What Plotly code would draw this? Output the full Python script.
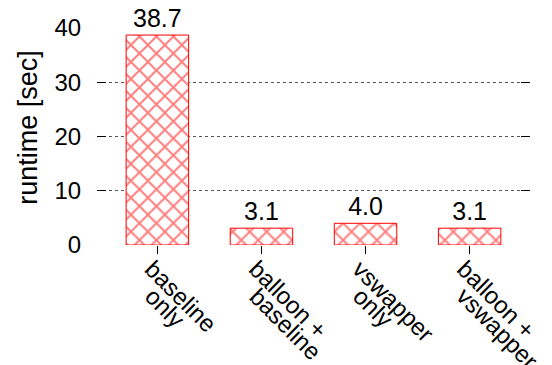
import math
import plotly.graph_objects as go

categories = [["baseline", "only"], ["balloon +", "baseline"], ["vswapper", "only"], ["balloon +", "vswapper"]]
runtime_sec = [38.7, 3.1, 4.0, 3.1]
bar_labels = ["38.7", "3.1", "4.0", "3.1"]
y_ticks = [0, 10, 20, 30, 40]

FONT = "Liberation Sans, Arial, sans-serif"
FS = 24
CAT_FS = 24
positions = list(range(len(categories)))

# Helvetica/Arial advance widths (em) for the characters of the category labels
ADVANCE = {"b": .556, "a": .556, "s": .5, "e": .556, "l": .222, "i": .222, "n": .556,
           "o": .556, "y": .5, " ": .278, "+": .584, "v": .5, "w": .722, "p": .556, "r": .333}

def text_len(s, size):
    return sum(ADVANCE.get(c, .556) for c in s) * size

# start of the first label line relative to its tick (px, y down) and the
# straight-down step between lines of one label
START_DX, START_DY = -8, 20
LINE_STEP = 27
C45 = math.cos(math.radians(45))

fig = go.Figure(
    go.Bar(
        x=positions,
        y=runtime_sec,
        width=0.6,
        text=bar_labels,
        textposition="outside",
        cliponaxis=False,
        textfont=dict(family=FONT, size=25, color="black"),
        marker=dict(
            color="white",
            line=dict(color="#ff0000", width=1),
            pattern=dict(shape="x", fgcolor="#ff0000", bgcolor="white", size=12, solidity=0.3),
        ),
    )
)

# rotated category labels: each line begins below the tick and runs down-right;
# the annotation is placed by the centre of its line
for pos, lines in zip(positions, categories):
    for k, line in enumerate(lines):
        half = text_len(line, CAT_FS) / 2 * C45
        dx = START_DX + half
        dy = START_DY + k * LINE_STEP + half
        fig.add_annotation(
            x=pos, y=0, xref="x", yref="y",
            text=line, textangle=45,
            xanchor="center", yanchor="middle",
            xshift=dx, yshift=-dy,
            showarrow=False,
            font=dict(family=FONT, size=CAT_FS, color="black"),
        )

# y-axis title
fig.add_annotation(
    x=0, y=0.54, xref="paper", yref="paper",
    text="runtime [sec]", textangle=-90,
    xanchor="center", yanchor="middle", xshift=-69,
    showarrow=False,
    font=dict(family=FONT, size=27, color="black"),
)

fig.update_layout(
    width=552,
    height=365,
    margin=dict(l=97, r=22, t=28, b=120),
    paper_bgcolor="white",
    plot_bgcolor="white",
    showlegend=False,
    font=dict(family=FONT, size=FS, color="black"),
)

fig.update_xaxes(
    range=[-0.58, 3.58],
    tickmode="array",
    tickvals=positions,
    showticklabels=False,
    ticks="outside",
    ticklen=8,
    tickcolor="black",
    showgrid=False,
    zeroline=False,
    showline=False,
)

fig.update_yaxes(
    range=[0, 40],
    tickvals=y_ticks,
    ticks="inside",
    ticklen=9,
    tickcolor="black",
    tickwidth=1,
    showline=True,
    linecolor="rgba(0,0,0,0)",
    mirror="ticks",
    showgrid=True,
    gridcolor="#555555",
    griddash="dot",
    gridwidth=1,
    zeroline=False,
    ticklabelstandoff=10,
    tickfont=dict(family=FONT, size=FS),
)

fig.write_html("out.html")
